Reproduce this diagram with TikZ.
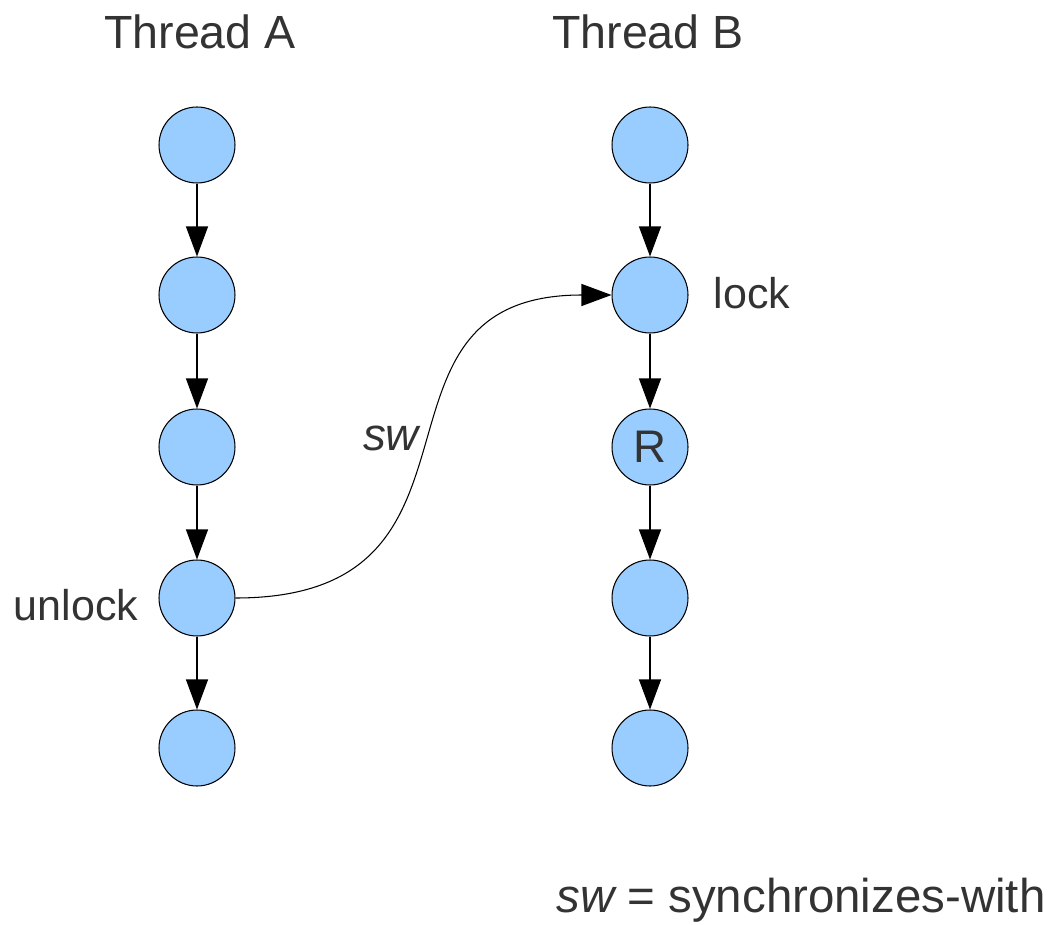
\documentclass[tikz,border=0pt]{standalone}
\usepackage{fontspec}
\setmainfont{Liberation Sans}
\usetikzlibrary{arrows.meta,positioning}
\definecolor{nodeblue}{HTML}{99CCFF}
\definecolor{labelgray}{HTML}{333333}

\begin{document}
\begin{tikzpicture}[x=0.02cm,y=-0.02cm,line width=0.6pt,
every node/.style={circle,draw,fill=nodeblue,minimum size=1.52cm,inner sep=0pt,
  text=labelgray,font=\fontsize{26}{30}\selectfont},
txt/.style={draw=none,fill=none,rectangle,minimum size=0pt,inner sep=1pt},
po/.style={-{Triangle[length=0.6cm,width=0.44cm]}}]
\useasboundingbox (0,0) rectangle (1054,925);

\node[txt,font=\fontsize{26.5}{30}\selectfont] (TA) at (200,32) {Thread A};
\node[txt,font=\fontsize{26.5}{30}\selectfont] (TB) at (648,32) {Thread B};

\node (A1) at (197,145) {};
\node (A2) at (197,295) {};
\node (A3) at (197,447) {};
\node (A4) at (197,598) {};
\node (A5) at (197,748) {};

\node (B1) at (650,145) {};
\node (B2) at (650,295) {};
\node (B3) at (650,447) {R};
\node (B4) at (650,598) {};
\node (B5) at (650,748) {};

\node[txt,font=\fontsize{24.5}{30}\selectfont] (unlock) at (76,605) {unlock};
\node[txt,font=\fontsize{24.5}{30}\selectfont] (lock) at (752,293) {lock};
\node[txt] (sw) at (391,438) {\itshape sw};

\draw[po] (A1)--(A2);
\draw[po] (A2)--(A3);
\draw[po] (A3)--(A4);
\draw[po] (A4)--(A5);
\draw[po] (B1)--(B2);
\draw[po] (B2)--(B3);
\draw[po] (B3)--(B4);
\draw[po] (B4)--(B5);

\draw[po] (A4.east) .. controls (515,598) and (345,295) .. (B2.west);

\node[txt,font=\fontsize{27}{30}\selectfont] (legend) at (801,900) {\itshape sw\upshape{} = synchronizes-with};
\end{tikzpicture}
\end{document}
